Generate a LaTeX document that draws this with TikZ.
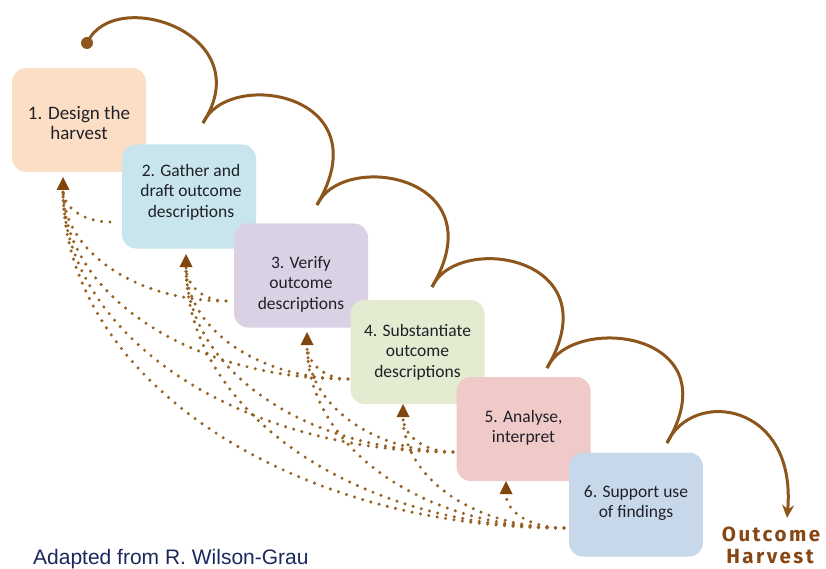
\documentclass[tikz,border=0pt]{standalone}
\usepackage{fontspec}
\setmainfont{Carlito}
\newfontfamily\footfont{Liberation Sans}
\newfontfamily\handfont{Fira Sans}[LetterSpace=12]
\usetikzlibrary{calc,arrows.meta}
\definecolor{arcbrown}{RGB}{140,86,28}
\definecolor{dotbrown}{RGB}{150,98,36}
\definecolor{headbrown}{RGB}{128,70,12}
\definecolor{textgray}{RGB}{32,32,40}
\definecolor{navy}{RGB}{28,40,92}
\definecolor{harvbrown}{RGB}{135,70,18}
\definecolor{cA}{RGB}{252,222,197}
\definecolor{cB}{RGB}{200,229,237}
\definecolor{cC}{RGB}{219,209,229}
\definecolor{cD}{RGB}{227,235,208}
\definecolor{cE}{RGB}{240,201,201}
\definecolor{cF}{RGB}{199,216,235}
\begin{document}
\begin{tikzpicture}[x=1pt,y=-1pt,
  stepbox/.style={draw=none, rounded corners=14pt, minimum width=134pt, minimum height=104pt, inner sep=0pt},
  boxtext/.style={align=center, text=textgray, inner sep=0pt, font=\fontsize{17.5}{20.5}\selectfont},
  dotline/.style={dotbrown, line width=3.4pt, line cap=round, dash pattern=on 0pt off 8.5pt},
  arcline/.style={arcbrown, line width=3pt},
  hand/.style={text=harvbrown, inner sep=0pt, anchor=base, font=\handfont\bfseries\fontsize{20.5}{23}\selectfont}]
\useasboundingbox (0,0) rectangle (826,569);

% source and target points of the feedback loops
\coordinate (s2) at (110,222);
\coordinate (s3) at (226,301);
\coordinate (s4) at (348,379);
\coordinate (s5) at (453,452);
\coordinate (s6) at (564,528);
\coordinate (t1) at (63,190);
\coordinate (t2) at (186,267);
\coordinate (t3) at (307,345);
\coordinate (t4) at (403,417);
\coordinate (t5) at (506,494);

\foreach \s/\t in {2/1,3/1,3/2,4/1,4/2,4/3,5/1,5/2,5/3,5/4,6/1,6/2,6/3,6/4,6/5}
  \draw[dotline] (s\s) .. controls ($(s\s)!0.552!(t\t|-s\s)$) and ($(t\t)!0.552!(t\t|-s\s)$) .. (t\t);
\foreach \t in {1,...,5}
  \fill[headbrown] (t\t) ++(-6.5,0) -- ++(13,0) -- ++(-6.5,-13) -- cycle;

% boxes
\node[stepbox, fill=cA] (b1) at (79,120) {};
\node[stepbox, fill=cB] (b2) at (189,196.5) {};
\node[stepbox, fill=cC] (b3) at (301,275.5) {};
\node[stepbox, fill=cD] (b4) at (417.5,352) {};
\node[stepbox, fill=cE] (b5) at (523.5,429) {};
\node[stepbox, fill=cF] (b6) at (636,504.5) {};

\node[boxtext, font=\fontsize{19}{19.5}\selectfont] (x1) at (79,123) {1. Design the\\harvest};
\node[boxtext] (x2) at (191,192) {2. Gather and\\draft outcome\\descriptions};
\node[boxtext] (x3) at (301,284) {3. Verify\\outcome\\descriptions};
\node[boxtext] (x4) at (417.5,352) {4. Substantiate\\outcome\\descriptions};
\node[boxtext] (x5) at (523.5,428) {5. Analyse,\\interpret};
\node[boxtext] (x6) at (636,503) {6. Support use\\of findings};

% solid loops
\coordinate (p0) at (87,43);
\coordinate (p1) at (203,123);
\coordinate (p2) at (317,205);
\coordinate (p3) at (432,287);
\coordinate (p4) at (547,368);
\coordinate (p5) at (667,443);
\coordinate (p6) at (787,518);
\fill[arcbrown] (p0) circle[radius=6pt];
\draw[arcline] (p0) .. controls ($(p0)+(26,-58)$) and ($(p1)+(58,-90)$) .. (p1);
\foreach \i/\j in {1/2,2/3,3/4,4/5}
  \draw[arcline] (p\i) .. controls ($(p\i)+(25,-55)$) and ($(p\j)+(66,-112)$) .. (p\j);
\draw[arcline,-{Stealth[length=13pt,width=12pt]}] (p5) .. controls ($(p5)+(25,-55)$) and ($(p6)+(10,-116)$) .. (p6);

% texts
\node[hand] (oh1) at (771,541) {Outcome};
\node[hand] (oh2) at (770,563) {Harvest};
\node[anchor=base west, inner sep=0pt, text=navy, font=\footfont\fontsize{21}{24}\selectfont] (credit) at (33,564) {Adapted from R. Wilson-Grau};
\end{tikzpicture}
\end{document}
